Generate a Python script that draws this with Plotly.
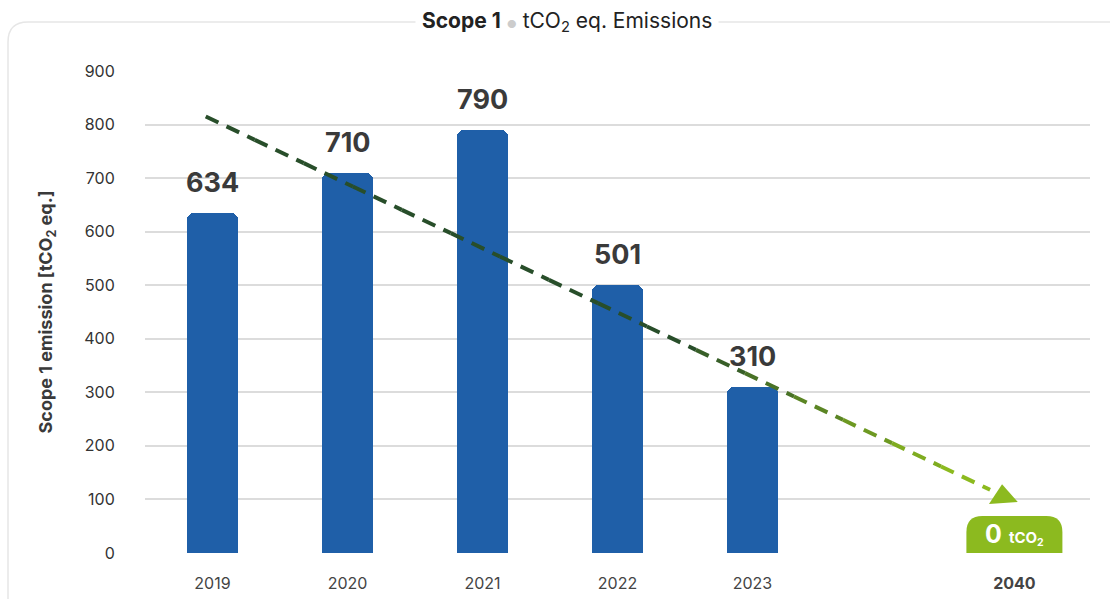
import plotly.graph_objects as go

# ---- data ----
years = ["2019", "2020", "2021", "2022", "2023", "2040"]
emissions = [634, 710, 790, 501, 310]
target_2040 = 0
trend_start_value = 815   # dashed trend line, start (near 2019)
trend_end_value = 118     # dashed trend line, end (near 2040 badge)
arrow_value = 105         # arrow head level
y_ticks = [0, 100, 200, 300, 400, 500, 600, 700, 800, 900]

FONT = "Inter"
DARK = "#3a3a3a"
BLUE = "#1f5fa8"
GREEN = "#8cba1f"
DKGREEN = (40, 78, 42)
LTGREEN = (140, 186, 31)

# axis positions for the categories (2040 sits after a gap)
pos = [0, 1, 2, 3, 4, 5.94]

fig = go.Figure()

fig.add_trace(go.Bar(
    x=pos[:5], y=emissions, width=0.385,
    marker=dict(color=BLUE, cornerradius=7, line=dict(width=0)),
    hoverinfo="skip", showlegend=False,
))

# value labels above bars
for xp, v in zip(pos[:5], emissions):
    fig.add_annotation(x=xp, y=v, text=f"<b>{v}</b>", showarrow=False,
                       yanchor="bottom", yshift=12,
                       font=dict(family=FONT, size=27, color=DARK))

# trend line with colour gradient (split in segments)
x0, x1 = -0.05, 5.76
n = 16
for i in range(n):
    t0, t1 = i / n, (i + 1) / n
    xa, xb = x0 + (x1 - x0) * t0, x0 + (x1 - x0) * t1
    ya = trend_start_value + (trend_end_value - trend_start_value) * t0
    yb = trend_start_value + (trend_end_value - trend_start_value) * t1
    tm = (t0 + t1) / 2
    f = min(1.0, max(0.0, (tm - 0.6) / 0.35))
    c = tuple(int(DKGREEN[k] + (LTGREEN[k] - DKGREEN[k]) * f) for k in range(3))
    fig.add_trace(go.Scatter(
        x=[xa, xb], y=[ya, yb], mode="lines",
        line=dict(color=f"rgb{c}", width=4, dash="14px,9px"),
        hoverinfo="skip", showlegend=False,
    ))

# arrow head
fig.add_trace(go.Scatter(
    x=[x1 + 0.095], y=[arrow_value],
    mode="markers",
    marker=dict(symbol="triangle-up", size=25, color=GREEN, angle=-4),
    hoverinfo="skip", showlegend=False,
))

# 2040 badge
fig.add_shape(type="path", xref="x", yref="y", xsizemode="pixel", ysizemode="pixel",
              xanchor=pos[5], yanchor=target_2040,
              path="M -48,0 L -48,21 Q -48,37 -32,37 L 32,37 Q 48,37 48,21 L 48,0 Z",
              fillcolor=GREEN, line=dict(width=0), layer="above")
fig.add_annotation(x=pos[5], y=target_2040, yshift=19, showarrow=False,
                   text=f"<b>{target_2040}</b> <b><span style='font-size:15px'>tCO<sub>2</sub></span></b>",
                   font=dict(family=FONT, size=25, color="white"))

# frame
fig.add_shape(type="path", xref="paper", yref="paper", xsizemode="pixel", ysizemode="pixel",
              xanchor=0, yanchor=1,
              path="M -137,-700 L -137,29 Q -137,49 -117,49 L 1100,49",
              line=dict(color="#e6e6e6", width=1.5), layer="below")

# title
fig.add_annotation(xref="paper", yref="paper", x=0.4466, y=1, yshift=49, showarrow=False,
                   text="<b>Scope 1</b> <span style='color:#cccccc;font-size:11px'>●</span> tCO<sub>2</sub> eq. Emissions",
                   font=dict(family=FONT, size=21, color="#222222"),
                   bgcolor="white", borderpad=6, yanchor="middle")

fig.update_layout(
    width=1110, height=599,
    margin=dict(l=145, r=20, t=71, b=46, autoexpand=False),
    paper_bgcolor="white", plot_bgcolor="white",
    font=dict(family=FONT, color=DARK),
    bargap=0,
    xaxis=dict(range=[-0.5, 6.5], tickvals=pos,
               ticktext=years[:5] + [f"<b>{years[5]}</b>"],
               showgrid=False, zeroline=False, showline=False, automargin=False,
               ticks="outside", ticklen=16, tickcolor="rgba(0,0,0,0)",
               tickfont=dict(family=FONT, size=16, color="#444444")),
    yaxis=dict(range=[0, 900], tickvals=y_ticks,
               showgrid=True, gridcolor="#dcdcdc", gridwidth=2,
               zeroline=False, showline=False, automargin=False,
               ticks="outside", ticklen=26, tickcolor="rgba(0,0,0,0)",
               tickfont=dict(family=FONT, size=16, color="#333333"),
               title=dict(text="<b>Scope 1 emission [tCO<sub>2</sub> eq.]</b>",
                          font=dict(family=FONT, size=18, color=DARK), standoff=26)),
)

fig.write_html("out.html")
